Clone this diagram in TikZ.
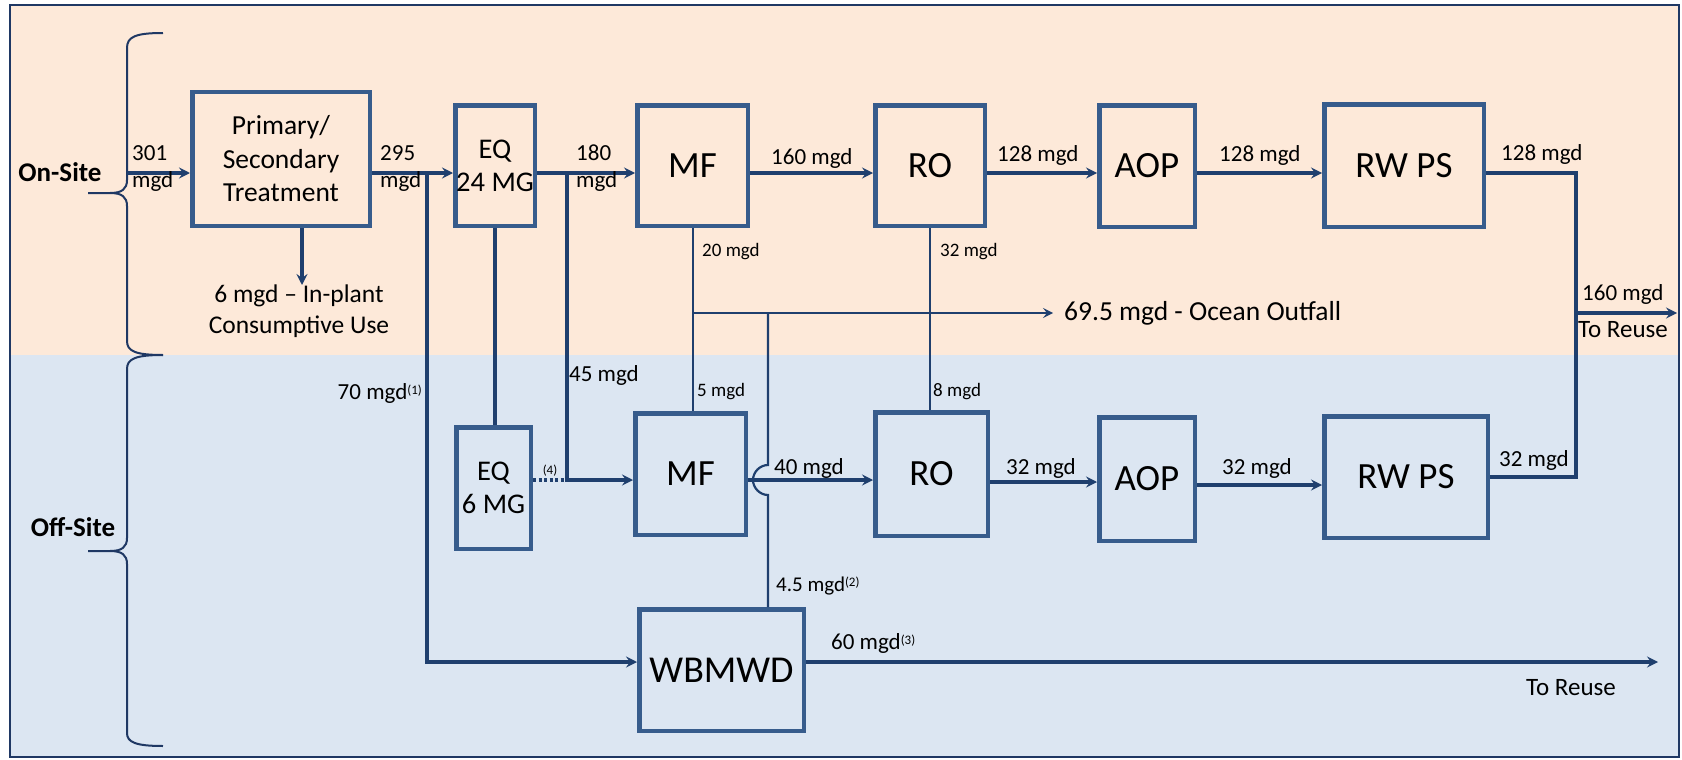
\documentclass[tikz,border=0pt]{standalone}
\usepackage{fontspec}
\setmainfont{Carlito}
\usetikzlibrary{arrows.meta}
\definecolor{peach}{HTML}{FDE9D9}
\definecolor{paleblue}{HTML}{DCE6F2}
\definecolor{boxc}{HTML}{375C8C}
\definecolor{linec}{HTML}{1F3F6E}
\definecolor{framec}{HTML}{1F3864}
\newcommand{\fsz}[2]{\fontsize{#1}{#2}\selectfont}
\tikzset{
  box/.style={draw=boxc, line width=4.5pt, inner sep=0pt, align=center},
  thickln/.style={draw=linec, line width=3.7pt},
  arr/.style={thickln, -{Stealth[length=11pt,width=11pt,inset=4pt]}},
  thinln/.style={draw=linec, line width=2.2pt},
  thinarr/.style={thinln, -{Stealth[length=10pt,width=10pt,inset=4pt]}},
  lbl/.style={inner sep=0pt, anchor=west, font=\fsz{23}{27}, align=left},
  smalllbl/.style={inner sep=0pt, anchor=west, font=\fsz{19}{22}},
  bracestyle/.style={draw=framec, line width=2pt},
  bigtxt/.style={font=\fsz{37}{42}},
}
\begin{document}
\begin{tikzpicture}[x=1pt,y=-1pt]
\useasboundingbox (0,0) rectangle (1682,760);
\fill[white] (0,0) rectangle (1682,760);
\fill[peach] (10,5) rectangle (1679,355);
\fill[paleblue] (10,355) rectangle (1679,757);
\draw[framec, line width=2.5pt] (10,5) rectangle (1679,757);

% braces
\draw[bracestyle] (163,33) .. controls (135,33) and (127,37) .. (127,48) -- (127,180)
  .. controls (127,189) and (122,193) .. (110,193) -- (88,193) -- (110,193)
  .. controls (122,193) and (127,197) .. (127,206) -- (127,341)
  .. controls (127,351) and (135,355) .. (163,355);
\draw[bracestyle] (163,355) .. controls (135,355) and (127,359) .. (127,369) -- (127,538)
  .. controls (127,547) and (122,551) .. (110,551) -- (88,551) -- (110,551)
  .. controls (122,551) and (127,555) .. (127,564) -- (127,733)
  .. controls (127,742) and (135,746) .. (163,746);
\node[font=\bfseries\fsz{27}{30}, inner sep=0pt] (onsite) at (60,172) {On-Site};
\node[font=\bfseries\fsz{27}{30}, inner sep=0pt] (offsite) at (73,527) {Off-Site};

% boxes
\node[box, minimum width=177.5pt, minimum height=133.5pt, font=\fsz{27.5}{33.5}] (prim) at (281,159) {Primary/\\Secondary\\Treatment};
\node[box, minimum width=79.5pt, minimum height=120.5pt, font=\fsz{28.5}{33}] (eq24) at (495,165.5) {EQ\\24 MG};
\node[box, minimum width=110.5pt, minimum height=120.5pt, bigtxt] (mf1) at (692.5,165.5) {MF};
\node[box, minimum width=109.5pt, minimum height=120.5pt, bigtxt] (ro1) at (930,165.5) {RO};
\node[box, minimum width=95.5pt, minimum height=121.5pt, bigtxt] (aop1) at (1147,166) {AOP};
\node[box, minimum width=159.5pt, minimum height=122.5pt, bigtxt] (rw1) at (1404,165.5) {RW PS};
\node[box, minimum width=74.5pt, minimum height=121.5pt, font=\fsz{28.5}{33}] (eq6) at (493.5,488) {EQ\\6 MG};
\node[box, minimum width=110.5pt, minimum height=121.5pt, bigtxt] (mf2) at (690.5,474) {MF};
\node[box, minimum width=112.5pt, minimum height=123.5pt, bigtxt] (ro2) at (931.5,474) {RO};
\node[box, minimum width=95.5pt, minimum height=123.5pt, bigtxt] (aop2) at (1147,479) {AOP};
\node[box, minimum width=163.5pt, minimum height=121.5pt, bigtxt] (rw2) at (1406,477) {RW PS};
\node[box, minimum width=164.5pt, minimum height=121.5pt, font=\fsz{38}{42}] (wbm) at (721.5,670) {WBMWD};

% junction coordinates
\coordinate (src) at (127,173);
\coordinate (j1) at (427,173);
\coordinate (j1b) at (427,662);
\coordinate (j2) at (567,173);
\coordinate (j2b) at (567,480);
\coordinate (j3) at (693,313);
\coordinate (j4) at (768,313);
\coordinate (hopT) at (768,465);
\coordinate (hopB) at (768,495);
\coordinate (out1) at (1053,313);
\coordinate (j5) at (1576,173);
\coordinate (j5b) at (1576,477);
\coordinate (j5c) at (1576,313);
\coordinate (reuse1) at (1677,313);
\coordinate (reuse2) at (1658,662);
\coordinate (use) at (302,285);

% upper row
\draw[arr] (src) -- (src -| prim.west);
\draw[arr] (prim.east |- src) -- (eq24.west |- src);
\draw[arr] (j1) -- (j1b) -- (j1b -| wbm.west);
\draw[arr] (eq24.east |- src) -- (mf1.west |- src);
\draw[arr] (j2) -- (j2b) -- (j2b -| mf2.west);
\draw[thickln] (eq24.south) -- (eq24.south |- eq6.north);
\draw[thickln, dash pattern=on 3pt off 2.5pt] (eq6.east |- j2b) -- (j2b);
\draw[arr] (mf1.east |- src) -- (ro1.west |- src);
\draw[arr] (ro1.east |- src) -- (aop1.west |- src);
\draw[arr] (aop1.east |- src) -- (rw1.west |- src);
\draw[thickln] (rw1.east |- src) -- (j5) -- (j5b) -- (j5b -| rw2.east);
\draw[arr] (j5c) -- (reuse1);
\draw[arr] (prim.south -| use) -- (use);

% concentrate lines
\draw[thinln] (mf1.south -| j3) -- (mf2.north -| j3);
\draw[thinarr] (j3) -- (out1);
\draw[thinln] (ro1.south) -- (ro1.south |- ro2.north);
\draw[thinln] (j4) -- (hopT) .. controls (760,465) and (753,472) .. (753,480)
  .. controls (753,488) and (760,495) .. (hopB) -- (hopB |- wbm.north);

% lower row
\draw[arr] (mf2.east |- j2b) -- (ro2.west |- j2b);
\draw[arr] (ro2.east |- 0,482) -- (aop2.west |- 0,482);
\draw[arr] (aop2.east |- 0,485) -- (rw2.west |- 0,485);
\draw[arr] (wbm.east |- j1b) -- (reuse2);

% labels
\node[lbl] (l301) at (132,168.5) {301\\mgd};
\node[lbl] (l295) at (380,168.5) {295\\mgd};
\node[lbl] (l180) at (576,168.5) {180\\mgd};
\node[lbl] (l160) at (771,158) {160 mgd};
\node[lbl] (l128a) at (997,155) {128 mgd};
\node[lbl] (l128b) at (1219,155) {128 mgd};
\node[lbl] (l128c) at (1501,154) {128 mgd};
\node[smalllbl] (l20) at (702,252) {20 mgd};
\node[smalllbl] (l32a) at (940,252) {32 mgd};
\node[smalllbl] (l5) at (697,392) {5 mgd};
\node[smalllbl] (l8) at (933,392) {8 mgd};
\node[lbl] (l45) at (569,375) {45 mgd};
\node[lbl, anchor=east] (l70) at (422,393) {70 mgd\raisebox{5pt}{\fsz{13}{14}(1)}};
\node[inner sep=0pt, font=\fsz{13}{15}] (l4) at (550,471) {(4)};
\node[lbl] (l40) at (774,468) {40 mgd};
\node[lbl] (l32b) at (1006,468) {32 mgd};
\node[lbl] (l32c) at (1222,468) {32 mgd};
\node[lbl] (l32d) at (1499,460) {32 mgd};
\node[lbl, font=\fsz{21}{24}] (l45b) at (776,586) {4.5 mgd\raisebox{5pt}{\fsz{13}{14}(2)}};
\node[lbl] (l60) at (831,643) {60 mgd\raisebox{5pt}{\fsz{13}{14}(3)}};
\node[lbl, font=\fsz{25}{27}] (lr2) at (1526,688) {To Reuse};
\node[lbl] (l160r) at (1582,294) {160 mgd};
\node[lbl, font=\fsz{25}{27}] (lr1) at (1578,330) {To Reuse};
\node[lbl, font=\fsz{27.5}{30}] (lout) at (1064,313) {69.5 mgd - Ocean Outfall};
\node[inner sep=0pt, align=center, font=\fsz{25.5}{31}] (luse) at (299,311) {6 mgd -- In-plant\\Consumptive Use};
\end{tikzpicture}
\end{document}
